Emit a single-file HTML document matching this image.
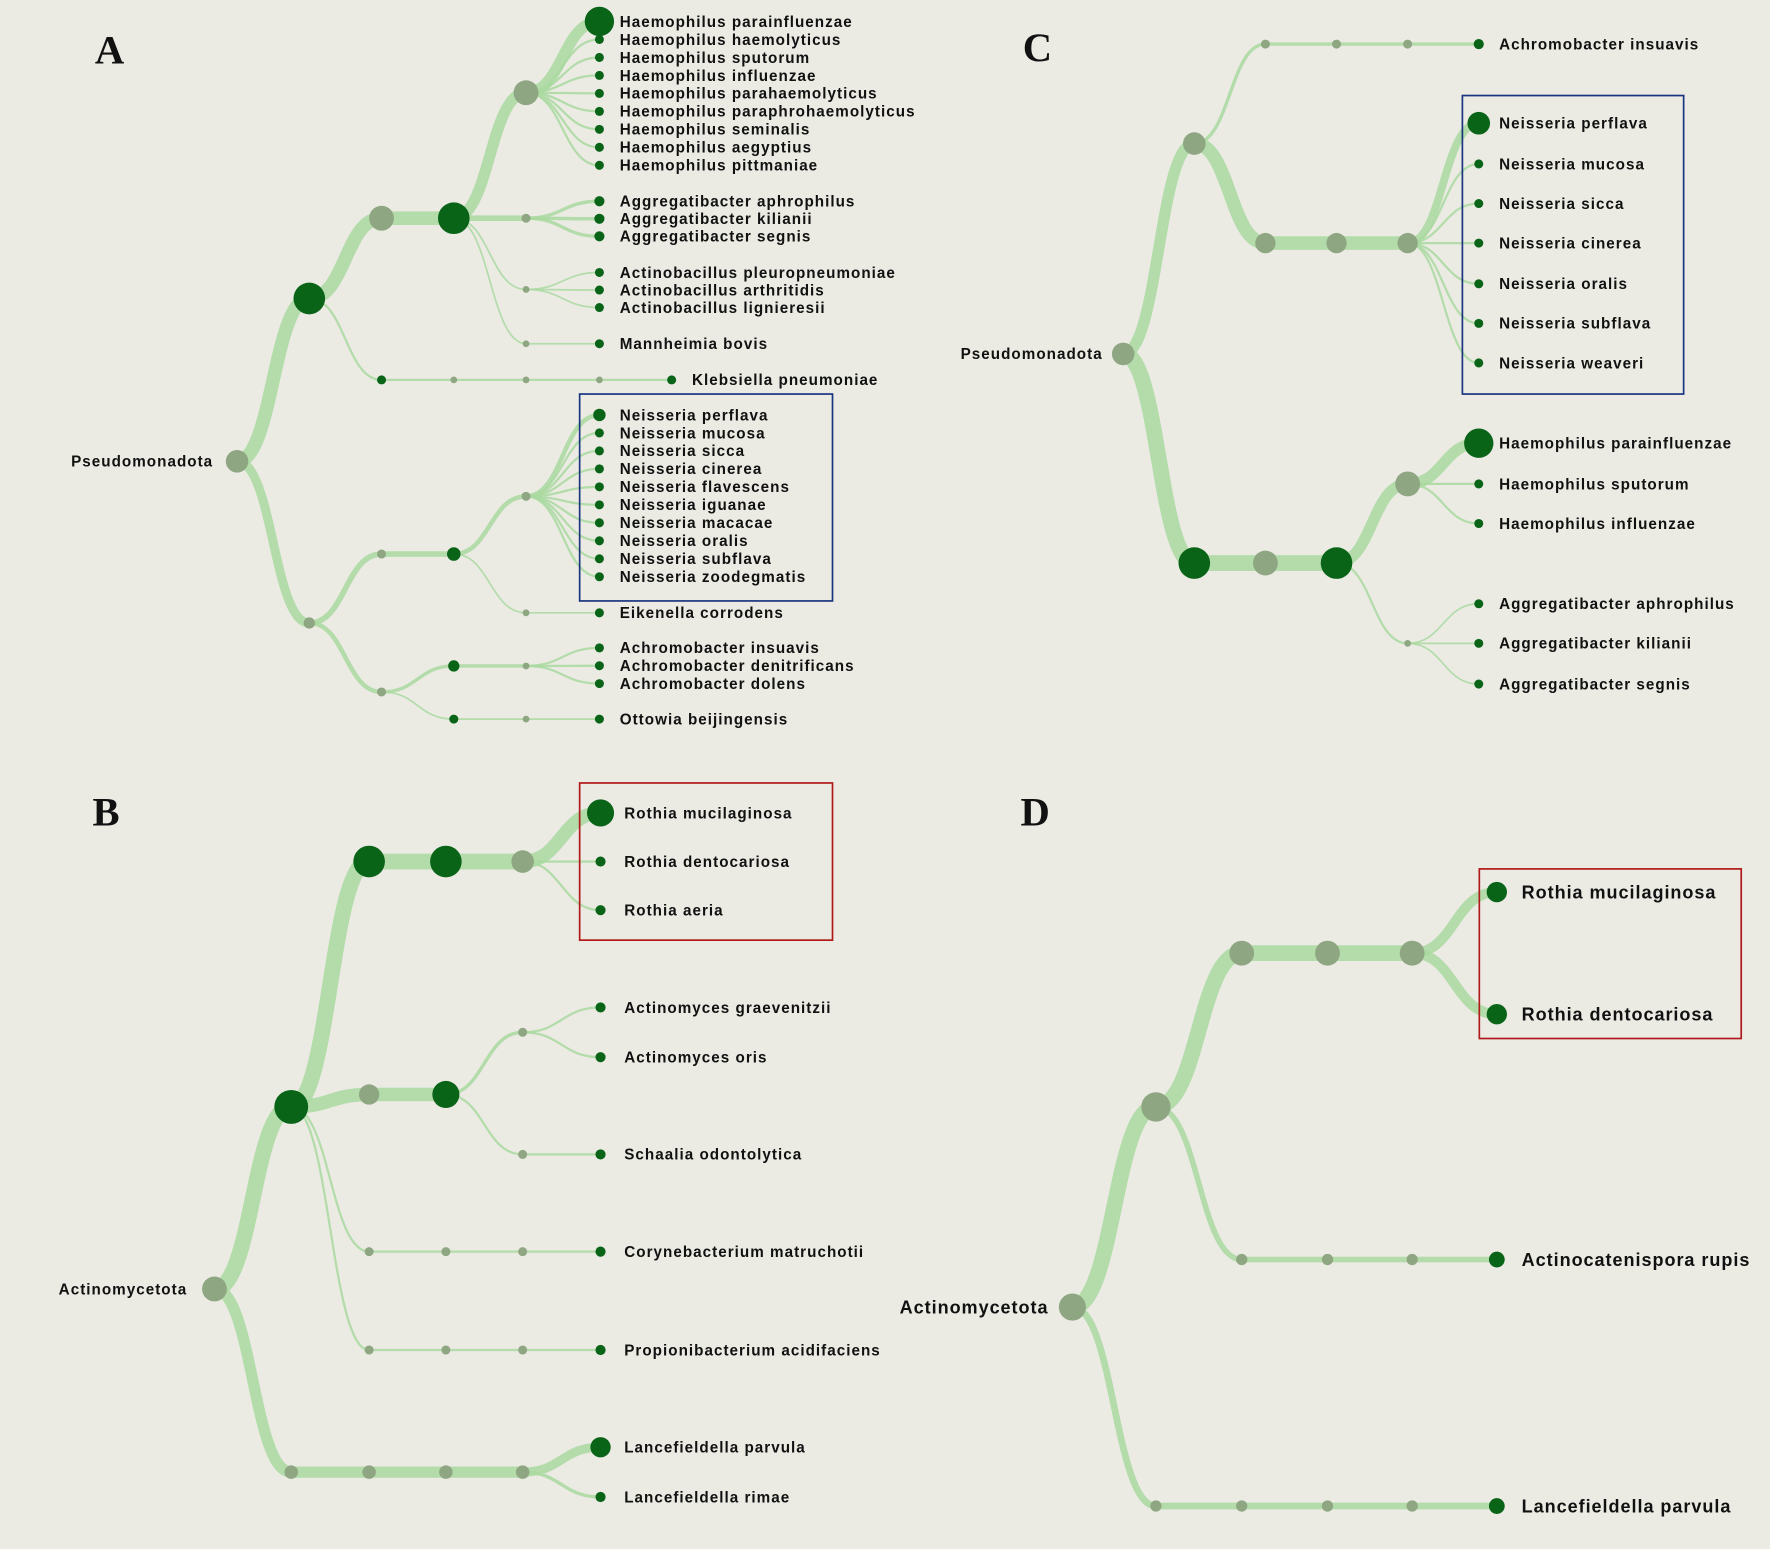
<!DOCTYPE html>
<html><head><meta charset="utf-8">
<style>
html,body{margin:0;padding:0;background:#ebebe4;}
svg{display:block;}
text{font-family:"Liberation Sans",sans-serif;fill:#111;}
.l{font-size:13.5px;font-weight:bold;letter-spacing:0.9px;}
.ld{font-size:16px;font-weight:bold;letter-spacing:0.85px;}
.big{font-family:"Liberation Serif",serif;font-size:36px;font-weight:bold;}
path{fill:none;stroke:#a9d9a0;stroke-linecap:round;}
</style></head><body>
<svg width="1770" height="1549" viewBox="0 0 1568 1370" preserveAspectRatio="none" xmlns="http://www.w3.org/2000/svg">
<rect width="1568" height="1370" fill="#ebebe4"/>
<g id="g"></g>
<text class="big" x="84" y="56">A</text>
<text class="big" x="906" y="54">C</text>
<text class="big" x="82" y="730">B</text>
<text class="big" x="904" y="730">D</text>
<rect x="513.5" y="348.5" width="224" height="183" fill="none" stroke="#1a3580" stroke-width="1.5"/>
<rect x="1295.5" y="84.5" width="196" height="264" fill="none" stroke="#1a3580" stroke-width="1.5"/>
<rect x="513.5" y="692.5" width="224" height="139" fill="none" stroke="#b01a1a" stroke-width="1.5"/>
<rect x="1310.5" y="768.5" width="232" height="150" fill="none" stroke="#b01a1a" stroke-width="1.5"/>
</svg>
<script>
const NS="http://www.w3.org/2000/svg";
const g=document.getElementById("g");
const links=[],nodes=[],labels=[];
function L(a,b,w){links.push([a,b,w]);}
function N(p,r,dark){nodes.push([p,r,dark]);}
function T(x,y,s,c){labels.push([x,y,s,c||"l"]);}
const D=true,G=false;
// Panel A
const A0=[210,408],A1=[274,264],A2=[274,551],A3=[338,193],A4=[338,336],A5=[402,193],A6=[466,82];
L(A0,A1,12);L(A0,A2,8);L(A1,A3,12);L(A1,A4,2);L(A3,A5,12);L(A5,A6,10);
const hae=["Haemophilus parainfluenzae","Haemophilus haemolyticus","Haemophilus sputorum","Haemophilus influenzae","Haemophilus parahaemolyticus","Haemophilus paraphrohaemolyticus","Haemophilus seminalis","Haemophilus aegyptius","Haemophilus pittmaniae"];
hae.forEach((s,i)=>{const y=19+i*15.9;L(A6,[531,y],i==0?10:2);N([531,y],i==0?13:4,D);T(549,y,s);});
const A7=[466,193];L(A5,A7,5);N(A7,4,G);
["Aggregatibacter aphrophilus","Aggregatibacter kilianii","Aggregatibacter segnis"].forEach((s,i)=>{const y=178+i*15.5;L(A7,[531,y],3);N([531,y],4.5,D);T(549,y,s);});
const A8=[466,256];L(A5,A8,1.5);N(A8,3,G);
["Actinobacillus pleuropneumoniae","Actinobacillus arthritidis","Actinobacillus lignieresii"].forEach((s,i)=>{const y=241+i*15.5;L(A8,[531,y],1.5);N([531,y],4,D);T(549,y,s);});
const A9=[466,304];L(A5,A9,1.5);L(A9,[531,304],1.5);N(A9,3,G);N([531,304],4,D);T(549,304,"Mannheimia bovis");
L(A4,[402,336],2);L([402,336],[466,336],2);L([466,336],[531,336],2);L([531,336],[595,336],2);
N(A4,4,D);N([402,336],3,G);N([466,336],3,G);N([531,336],3,G);N([595,336],4,D);T(613,336,"Klebsiella pneumoniae");
const A10=[338,490],A11=[402,490],A12=[466,439];L(A2,A10,5);L(A10,A11,5);L(A11,A12,4);
["Neisseria perflava","Neisseria mucosa","Neisseria sicca","Neisseria cinerea","Neisseria flavescens","Neisseria iguanae","Neisseria macacae","Neisseria oralis","Neisseria subflava","Neisseria zoodegmatis"].forEach((s,i)=>{const y=367+i*15.9;L(A12,[531,y],i==0?4:2);N([531,y],i==0?5.5:4,D);T(549,y,s);});
const A13=[466,542];L(A11,A13,1.5);L(A13,[531,542],1.5);N(A13,3,G);N([531,542],4,D);T(549,542,"Eikenella corrodens");
const A14=[338,612],A15=[402,589],A16=[466,589];L(A2,A14,4);L(A14,A15,3);L(A15,A16,3);
["Achromobacter insuavis","Achromobacter denitrificans","Achromobacter dolens"].forEach((s,i)=>{const y=573+i*15.8;L(A16,[531,y],2);N([531,y],4,D);T(549,y,s);});
L(A14,[402,636],1.5);L([402,636],[466,636],1.5);L([466,636],[531,636],1.5);
N([402,636],4,D);N([466,636],3,G);N([531,636],4,D);T(549,636,"Ottowia beijingensis");
N(A0,10,G);N(A1,14,D);N(A2,5,G);N(A3,11,G);N(A5,14,D);N(A6,11,G);N(A10,4,G);N(A11,6,D);N(A12,4,G);N(A14,4,G);N(A15,5,D);N(A16,3,G);
T(63,408,"Pseudomonadota");
// Panel C
const C0=[995,313],C1=[1058,127],C2=[1058,498];L(C0,C1,10);L(C0,C2,14);
L(C1,[1121,39],3);L([1121,39],[1184,39],3);L([1184,39],[1247,39],3);L([1247,39],[1310,39],3);
N([1121,39],4,G);N([1184,39],4,G);N([1247,39],4,G);N([1310,39],4.5,D);T(1328,39,"Achromobacter insuavis");
const C3=[1121,215],C4=[1184,215],C5=[1247,215];L(C1,C3,12);L(C3,C4,12);L(C4,C5,12);
["Neisseria perflava","Neisseria mucosa","Neisseria sicca","Neisseria cinerea","Neisseria oralis","Neisseria subflava","Neisseria weaveri"].forEach((s,i)=>{const y=[109,145,180,215,251,286,321][i];L(C5,[1310,y],i==0?7:2);N([1310,y],i==0?10:4,D);T(1328,y,s);});
const C6=[1121,498],C7=[1184,498],C8=[1247,428],C9=[1247,569];L(C2,C6,14);L(C6,C7,14);L(C7,C8,10);L(C7,C9,2);
[["Haemophilus parainfluenzae",392],["Haemophilus sputorum",428],["Haemophilus influenzae",463]].forEach(([s,y],i)=>{L(C8,[1310,y],i==0?10:2);N([1310,y],i==0?13:4,D);T(1328,y,s);});
[["Aggregatibacter aphrophilus",534],["Aggregatibacter kilianii",569],["Aggregatibacter segnis",605]].forEach(([s,y])=>{L(C9,[1310,y],1.5);N([1310,y],4,D);T(1328,y,s);});
N(C0,10,G);N(C1,10,G);N(C2,14,D);N(C3,9,G);N(C4,9,G);N(C5,9,G);N(C6,11,G);N(C7,14,D);N(C8,11,G);N(C9,3,G);
T(851,313,"Pseudomonadota");
// Panel B
const B0=[190,1140],B1=[258,979],B2=[258,1302];L(B0,B1,14);L(B0,B2,10);
const B3=[327,762],B4=[395,762],B5=[463,762];L(B1,B3,14);L(B3,B4,14);L(B4,B5,14);
[["Rothia mucilaginosa",719],["Rothia dentocariosa",762],["Rothia aeria",805]].forEach(([s,y],i)=>{L(B5,[532,y],i==0?12:2);N([532,y],i==0?12:4.5,D);T(553,y,s);});
const B6=[327,968],B7=[395,968],B8=[463,913],B9=[463,1021];L(B1,B6,12);L(B6,B7,12);L(B7,B8,3);L(B7,B9,2);
[["Actinomyces graevenitzii",891],["Actinomyces oris",935]].forEach(([s,y])=>{L(B8,[532,y],2);N([532,y],4.5,D);T(553,y,s);});
L(B9,[532,1021],2);N([532,1021],4.5,D);T(553,1021,"Schaalia odontolytica");
[[1107,"Corynebacterium matruchotii"],[1194,"Propionibacterium acidifaciens"]].forEach(([y,s])=>{L(B1,[327,y],2);L([327,y],[395,y],2);L([395,y],[463,y],2);L([463,y],[532,y],2);N([327,y],4,G);N([395,y],4,G);N([463,y],4,G);N([532,y],4.5,D);T(553,y,s);});
const B10=[327,1302],B11=[395,1302],B12=[463,1302];L(B2,B10,10);L(B10,B11,10);L(B11,B12,10);
[["Lancefieldella parvula",1280],["Lancefieldella rimae",1324]].forEach(([s,y],i)=>{L(B12,[532,y],i==0?8:3);N([532,y],i==0?9:4.5,D);T(553,y,s);});
N(B0,11,G);N(B1,15,D);N(B2,6,G);N(B3,14,D);N(B4,14,D);N(B5,10,G);N(B6,9,G);N(B7,12,D);N(B8,4,G);N(B9,4,G);N(B10,6,G);N(B11,6,G);N(B12,6,G);
T(52,1140,"Actinomycetota");
// Panel D
const D0=[950,1156],D1=[1024,979],D2=[1024,1332];L(D0,D1,14);L(D0,D2,6);
const D3=[1100,843],D4=[1176,843],D5=[1251,843];L(D1,D3,14);L(D3,D4,14);L(D4,D5,14);
[["Rothia mucilaginosa",789],["Rothia dentocariosa",897]].forEach(([s,y])=>{L(D5,[1326,y],9);N([1326,y],9,D);T(1348,y,s,"ld");});
[1100,1176,1251].forEach((x,i)=>{const p=[x,1114];L(i==0?D1:[[1100,1176,1251][i-1],1114],p,5);N(p,5,G);});L([1251,1114],[1326,1114],5);N([1326,1114],7,D);T(1348,1114,"Actinocatenispora rupis","ld");
[1100,1176,1251].forEach((x,i)=>{const p=[x,1332];L(i==0?D2:[[1100,1176,1251][i-1],1332],p,6);N(p,5,G);});L([1251,1332],[1326,1332],6);N([1326,1332],7,D);T(1348,1332,"Lancefieldella parvula","ld");
N(D0,12,G);N(D1,13,G);N(D2,5,G);N(D3,11,G);N(D4,11,G);N(D5,11,G);
T(797,1156,"Actinomycetota","ld");
// draw
links.forEach(([a,b,w])=>{const p=document.createElementNS(NS,"path");const mx=(a[0]+b[0])/2;
p.setAttribute("d",`M${a[0]} ${a[1]}C${mx} ${a[1]},${mx} ${b[1]},${b[0]} ${b[1]}`);p.setAttribute("stroke-width",w);p.setAttribute("stroke-opacity","0.85");g.appendChild(p);});
nodes.forEach(([p,r,d])=>{const c=document.createElementNS(NS,"circle");c.setAttribute("cx",p[0]);c.setAttribute("cy",p[1]);c.setAttribute("r",r);c.setAttribute("fill",d?"#0a6418":"#8fa682");g.appendChild(c);});
labels.forEach(([x,y,s,c])=>{const t=document.createElementNS(NS,"text");t.setAttribute("x",x);t.setAttribute("y",y);t.setAttribute("dy","0.35em");t.setAttribute("class",c);t.textContent=s;g.appendChild(t);});
</script>
</body></html>
